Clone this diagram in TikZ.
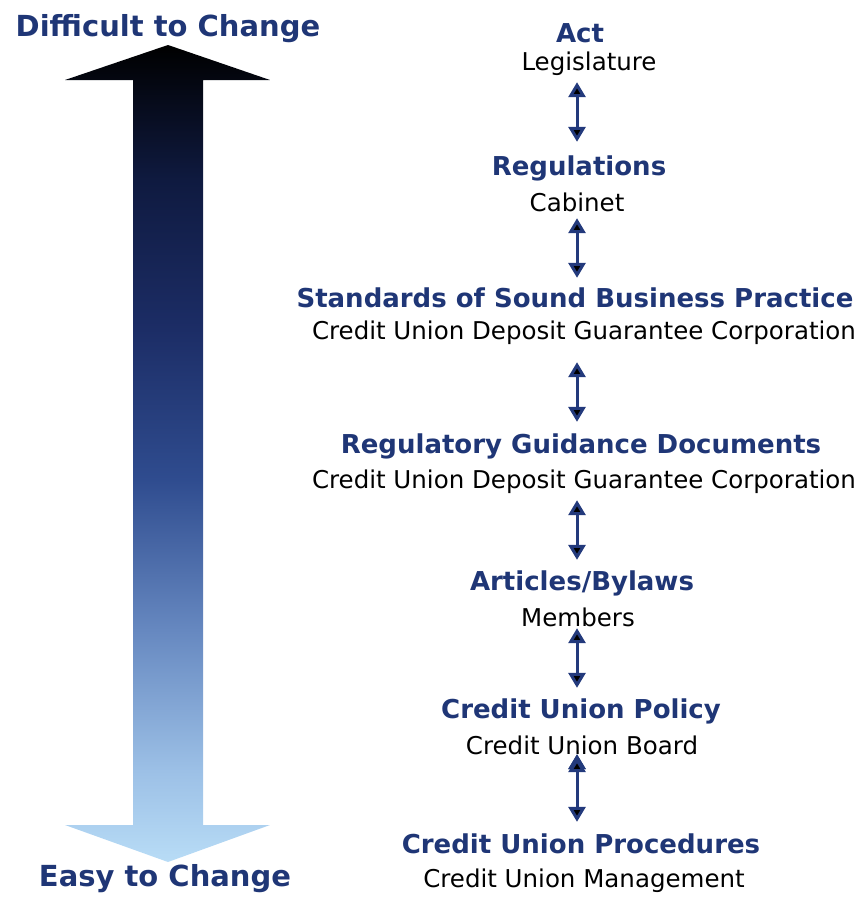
\documentclass[tikz,border=0pt]{standalone}
\usepackage{fontspec}
\setmainfont{DejaVu Sans}
\usetikzlibrary{arrows.meta}

\definecolor{titleblue}{HTML}{1F3676}
\definecolor{linkblue}{HTML}{233A7C}
\definecolor{grad0}{HTML}{000000}
\definecolor{grad1}{HTML}{0F1A40}
\definecolor{grad2}{HTML}{1C2D66}
\definecolor{grad3}{HTML}{2F4C8F}
\definecolor{grad4}{HTML}{6688C0}
\definecolor{grad5}{HTML}{9CC0E6}
\definecolor{grad6}{HTML}{B8DCF6}

% dark at the top, pale at the bottom
\pgfdeclareverticalshading{changegrad}{100bp}{
  color(0bp)=(grad6); color(25bp)=(grad6); color(30.6bp)=(grad5);
  color(39.2bp)=(grad4); color(48.4bp)=(grad3); color(57.6bp)=(grad2);
  color(66.7bp)=(grad1); color(75bp)=(grad0); color(100bp)=(grad0)}

\begin{document}
\begin{tikzpicture}[x=1pt,y=-1pt,
  level/.style={font=\bfseries\fontsize{26}{30}\selectfont,text=titleblue,inner sep=0pt,text height=20pt,text depth=0pt},
  body/.style={font=\fontsize{24.5}{28}\selectfont,inner sep=0pt,text height=20pt,text depth=0pt},
  ends/.style={font=\bfseries\fontsize{29}{33}\selectfont,text=titleblue,inner sep=0pt},
  link/.style={{Triangle[width=17pt,length=15pt]}-{Triangle[width=17pt,length=15pt]},line width=3pt,draw=linkblue}]
  \useasboundingbox (0,0) rectangle (862,897);

  % big arrow on the left
  \path[shading=changegrad] (168,45) -- (270,80) -- (203,80) -- (203,825) -- (270,825)
    -- (168,862) -- (65,825) -- (133,825) -- (133,80) -- (65,80) -- cycle;
  \node[ends] (hard) at (168,29) {Difficult to Change};
  \node[ends] (easy) at (165,879) {Easy to Change};

  % levels
  \node[level] (act) at (580,32) {Act};
  \node[body] (legis) at (589,60) {Legislature};
  \node[level] (regs) at (579,165) {Regulations};
  \node[body] (cab) at (577,201) {Cabinet};
  \node[level] (sound) at (575,297) {Standards of Sound Business Practice};
  \node[body] (cudgc1) at (584,329) {Credit Union Deposit Guarantee Corporation};
  \node[level] (guide) at (581,443) {Regulatory Guidance Documents};
  \node[body] (cudgc2) at (584,478) {Credit Union Deposit Guarantee Corporation};
  \node[level] (bylaws) at (582,580) {Articles/Bylaws};
  \node[body] (members) at (578,616) {Members};
  \node[level] (policy) at (581,708) {Credit Union Policy};
  \node[body] (board) at (582,744) {Credit Union Board};
  \node[level] (proc) at (581,843) {Credit Union Procedures};
  \node[body] (mgmt) at (584,877) {Credit Union Management};

  \path[link]
  (legis.south -| 577,0) edge[shorten <=12pt,shorten >=13pt] (regs.north -| 577,0)
  (cab.south -| 577,0) edge[shorten <=7pt,shorten >=9pt] (sound.north -| 577,0)
  (cudgc1.south -| 577,0) edge[shorten <=23pt,shorten >=11pt] (guide.north -| 577,0)
  (cudgc2.south -| 577,0) edge[shorten <=12pt,shorten >=10pt] (bylaws.north -| 577,0)
  (members.south -| 577,0) edge[shorten <=2pt,shorten >=10pt] (policy.north -| 577,0)
  (board.south -| 577,0) edge[shorten <=3pt,shorten >=11pt] (proc.north -| 577,0)
  ;
\end{tikzpicture}
\end{document}
